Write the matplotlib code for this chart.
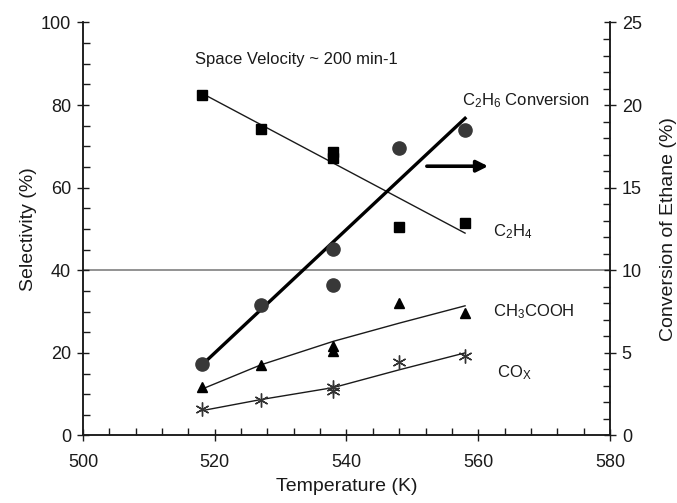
import matplotlib
matplotlib.use("Agg")
import matplotlib.pyplot as plt
from matplotlib.ticker import MultipleLocator

plt.rcParams['font.family'] = ['Liberation Sans', 'DejaVu Sans']
plt.rcParams['mathtext.fontset'] = 'custom'
plt.rcParams['mathtext.rm'] = 'Liberation Sans'
plt.rcParams['mathtext.it'] = 'Liberation Sans:italic'

# ---- data ----
temps = [518, 527, 538, 538, 548, 558]
sel_c2h4 = [82.4, 74.3, 68.6, 67.1, 50.6, 51.5]
sel_ch3cooh = [11.7, 17.1, 21.7, 20.4, 32.0, 29.6]
sel_cox = [6.3, 8.7, 11.8, 10.7, 17.7, 19.3]
conv_ethane = [4.3, 7.9, 11.3, 9.1, 17.4, 18.5]

fit_t_lin = [518, 558]
fit_c2h4 = [82.9, 49.0]
fit_conv = [4.25, 19.2]
fit_t = [518, 527, 538, 548, 558]
fit_ch3cooh = [11.2, 17.1, 22.8, 27.2, 31.4]
fit_cox = [6.0, 8.7, 11.6, 15.9, 20.0]

fig = plt.figure(figsize=(6.77, 5.03), dpi=100)
ax = fig.add_axes([0.1226, 0.1342, 0.7784, 0.8211])
ax2 = ax.twinx()

ink = '#1a1a1a'

# reference horizontal line
ax.axhline(40, color='#8a8a8a', lw=1.3, zorder=1)

# fits
ax.plot(fit_t_lin, fit_c2h4, color=ink, lw=1.0, zorder=2)
ax.plot(fit_t, fit_ch3cooh, color=ink, lw=1.0, zorder=2)
ax.plot(fit_t, fit_cox, color=ink, lw=1.0, zorder=2)
ax2.plot(fit_t_lin, fit_conv, color='black', lw=2.4, zorder=3)

# markers
ax.plot(temps, sel_c2h4, 's', color='black', ms=6.5, ls='none', zorder=4)
ax.plot(temps, sel_ch3cooh, '^', color='black', ms=6.5, ls='none', zorder=4)
ax.plot(temps, sel_cox, marker=(6, 2, 0), color='#333333', ms=10, mew=1.0,
        ls='none', zorder=4)
ax2.plot(temps, conv_ethane, 'o', color='#383838', ms=9.5, ls='none', zorder=4)

# arrow
ax.annotate('', xy=(561.5, 65.2), xytext=(552.2, 65.2),
            arrowprops=dict(arrowstyle='-|>', lw=2.6, color='black',
                            mutation_scale=17, shrinkA=0, shrinkB=0))

# text labels
fs = 12
ax.text(517, 91.0, 'Space Velocity ~ 200 min-1', fontsize=fs, color=ink,
        ha='left', va='center')
ax.text(557.6, 81.0, r'C$_2$H$_6$ Conversion', fontsize=fs, color=ink,
        ha='left', va='center')
ax.text(562.2, 49.4, r'C$_2$H$_4$', fontsize=fs, color=ink, ha='left', va='center')
ax.text(562.2, 30.0, r'CH$_3$COOH', fontsize=fs, color=ink, ha='left', va='center')
ax.text(562.9, 15.1, r'CO$_\mathrm{X}$', fontsize=fs, color=ink, ha='left', va='center')

# axes limits / ticks
ax.set_xlim(500, 580)
ax.set_ylim(0, 100)
ax2.set_ylim(0, 25)
ax.xaxis.set_major_locator(MultipleLocator(20))
ax.xaxis.set_minor_locator(MultipleLocator(4))
ax.yaxis.set_major_locator(MultipleLocator(20))
ax.yaxis.set_minor_locator(MultipleLocator(5))
ax2.yaxis.set_major_locator(MultipleLocator(5))
ax2.yaxis.set_minor_locator(MultipleLocator(1))

for a in (ax, ax2):
    a.tick_params(which='major', direction='inout', length=9, width=1.0,
                  labelsize=13, colors=ink, pad=4)
    a.tick_params(which='minor', direction='in', length=5, width=1.0, colors=ink)
    for s in a.spines.values():
        s.set_linewidth(1.1)
        s.set_color(ink)
    a.spines['top'].set_visible(False)

ax.tick_params(axis='x', pad=9)

ax.set_xlabel('Temperature (K)', fontsize=14, color=ink)
ax.set_ylabel('Selectivity (%)', fontsize=14, color=ink)
ax2.set_ylabel('Conversion of Ethane (%)', fontsize=14, color=ink)
ax.xaxis.set_label_coords(0.5, -0.103)
ax.yaxis.set_label_coords(-0.088, 0.5)
ax2.yaxis.set_label_coords(1.095, 0.5)

fig.savefig('out.png', dpi=100)
